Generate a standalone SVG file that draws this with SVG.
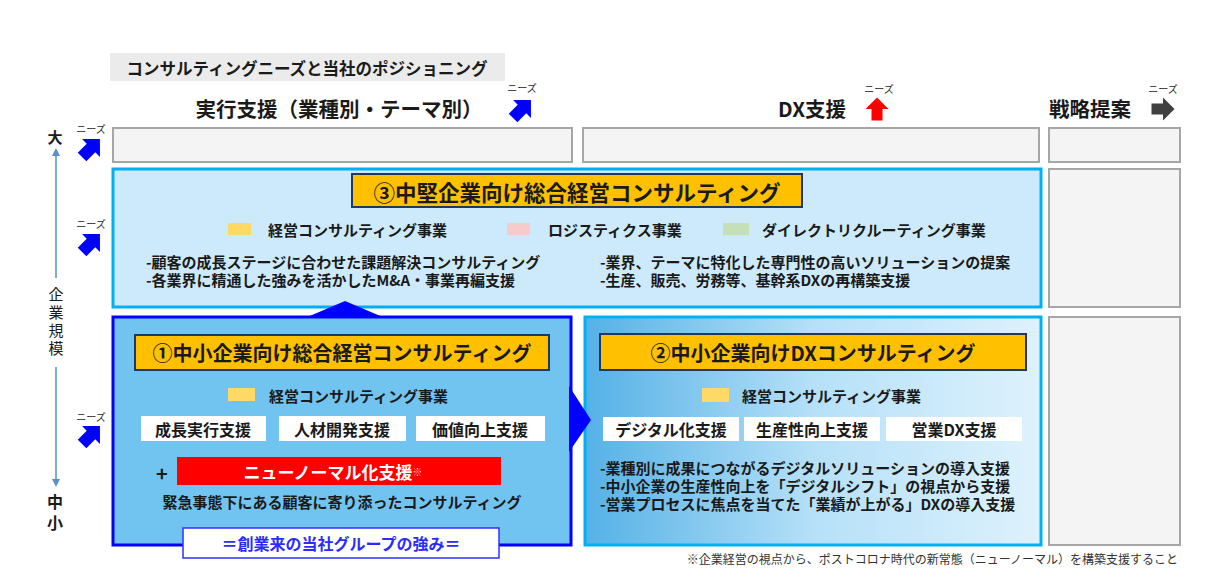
<svg xmlns="http://www.w3.org/2000/svg" width="1228" height="581" viewBox="0 0 1228 581">
<style>
text{font-family:"Noto Sans CJK JP","Noto Sans",sans-serif;fill:#1a1a1a;dominant-baseline:central}
.b{font-weight:700}
.hd{font-size:20.5px;font-weight:700}
.nz{font-size:10px;fill:#222}
.gray{fill:#f4f4f4;stroke:#a6a6a6;stroke-width:2}
.ttl{fill:#ffc000;stroke:#1f3864;stroke-width:2}
.ttxt{font-size:20px;font-weight:700;text-anchor:middle}
.lg{font-size:15px;font-weight:700}
.bl{font-size:15px;font-weight:700}
.wb{fill:#ffffff}
.wt{font-size:16px;font-weight:700;text-anchor:middle}
.ax{stroke:#5b8fc7;stroke-width:1.5;fill:none}
</style>
<defs>
<path id="arr" d="M0,-11.5 L11.5,0 L5.5,0 L5.5,11.5 L-5.5,11.5 L-5.5,0 L-11.5,0 Z"/>
<linearGradient id="g2" x1="0" y1="0" x2="1" y2="0">
<stop offset="0" stop-color="#55b1e6"/>
<stop offset="0.5" stop-color="#b5e0f8"/>
<stop offset="1" stop-color="#def2fd"/>
</linearGradient>
</defs>
<rect width="1228" height="581" fill="#ffffff"/>

<g id="title">
<rect x="110" y="53" width="395" height="28" fill="#ebebeb"/>
<text x="307" y="68" class="b" font-size="16.5" text-anchor="middle">コンサルティングニーズと当社のポジショニング</text>
</g>

<g id="headers">
<text x="339" y="108" class="hd" text-anchor="middle">実行支援（業種別・テーマ別）</text>
<text x="522" y="87" class="nz" text-anchor="middle">ニーズ</text>
<use href="#arr" transform="translate(522,109) rotate(45) scale(1.1)" fill="#0000ff"/>
<text x="846" y="108" class="hd" text-anchor="end">DX支援</text>
<text x="879" y="88" class="nz" text-anchor="middle">ニーズ</text>
<use href="#arr" transform="translate(877,109)" fill="#ff0000"/>
<text x="1049" y="108" class="hd">戦略提案</text>
<text x="1163" y="88" class="nz" text-anchor="middle">ニーズ</text>
<use href="#arr" transform="translate(1163,109) rotate(90)" fill="#404040"/>
</g>

<g id="axis">
<text x="55" y="136" class="b" font-size="15" text-anchor="middle">大</text>
<text x="91" y="128" class="nz" text-anchor="middle">ニーズ</text>
<use href="#arr" transform="translate(91,148) rotate(45) scale(1.1)" fill="#0000ff"/>
<text x="91" y="223" class="nz" text-anchor="middle">ニーズ</text>
<use href="#arr" transform="translate(91,243) rotate(45) scale(1.1)" fill="#0000ff"/>
<text x="91" y="416" class="nz" text-anchor="middle">ニーズ</text>
<use href="#arr" transform="translate(91,435) rotate(45) scale(1.1)" fill="#0000ff"/>
<line x1="56" y1="153" x2="56" y2="278" class="ax"/>
<path d="M52,156 L56,148 L60,156 Z" fill="#5b8fc7"/>
<line x1="56" y1="367" x2="56" y2="482" class="ax"/>
<path d="M52,479 L56,487 L60,479 Z" fill="#5b8fc7"/>
<text x="56" y="293" font-size="15" text-anchor="middle">企</text>
<text x="56" y="311" font-size="15" text-anchor="middle">業</text>
<text x="56" y="329" font-size="15" text-anchor="middle">規</text>
<text x="56" y="347" font-size="15" text-anchor="middle">模</text>
<text x="55" y="501" class="b" font-size="16" text-anchor="middle">中</text>
<text x="55" y="522" class="b" font-size="16" text-anchor="middle">小</text>
</g>

<g id="row1">
<rect x="113" y="128" width="459" height="34" class="gray"/>
<rect x="583" y="128" width="456" height="34" class="gray"/>
<rect x="1049" y="128" width="131" height="34" class="gray"/>
</g>

<g id="gray-right">
<rect x="1049" y="169" width="131" height="138" class="gray"/>
<rect x="1049" y="317" width="131" height="228" class="gray"/>
</g>

<g id="box3">
<rect x="113" y="169" width="928" height="138" fill="#cdeafc" stroke="#00b0f0" stroke-width="3"/>
<rect x="352" y="174" width="450" height="33" class="ttl"/>
<text x="577" y="191" class="ttxt" font-size="21.5" style="font-size:21.5px">③中堅企業向け総合経営コンサルティング</text>
<rect x="228" y="223" width="23" height="12" fill="#ffd966"/>
<text x="268" y="229" class="lg">経営コンサルティング事業</text>
<rect x="507" y="223" width="23" height="12" fill="#f8cbcb"/>
<text x="548" y="229" class="lg">ロジスティクス事業</text>
<rect x="723" y="223" width="26" height="12" fill="#c5e0b4"/>
<text x="762" y="229" class="lg">ダイレクトリクルーティング事業</text>
<text x="146" y="261" class="bl">-顧客の成長ステージに合わせた課題解決コンサルティング</text>
<text x="146" y="279" class="bl">-各業界に精通した強みを活かしたM&amp;A・事業再編支援</text>
<text x="600" y="261" class="bl">-業界、テーマに特化した専門性の高いソリューションの提案</text>
<text x="600" y="279" class="bl">-生産、販売、労務等、基幹系DXの再構築支援</text>
</g>

<g id="box1">
<rect x="113" y="317" width="458" height="228" fill="#72c4f0" stroke="#0000ff" stroke-width="3"/>
<rect x="135" y="335" width="414" height="35" class="ttl"/>
<text x="342" y="352" class="ttxt">①中小企業向け総合経営コンサルティング</text>
<rect x="228" y="388" width="27" height="13" fill="#ffd966"/>
<text x="269" y="395" class="lg">経営コンサルティング事業</text>
<rect x="141" y="416" width="125" height="25" class="wb"/>
<text x="203" y="429" class="wt">成長実行支援</text>
<rect x="279" y="416" width="127" height="25" class="wb"/>
<text x="342" y="429" class="wt">人材開発支援</text>
<rect x="416" y="416" width="129" height="25" class="wb"/>
<text x="480" y="429" class="wt">価値向上支援</text>
<text x="162" y="472" class="b" font-size="20" text-anchor="middle">+</text>
<rect x="177" y="457" width="324" height="28" fill="#ff0000"/>
<text x="333" y="471" class="b" font-size="17" text-anchor="middle" style="fill:#ffffff">ニューノーマル化支援<tspan font-size="10" style="fill:#ffc9c9">※</tspan></text>
<text x="342" y="501" class="b" font-size="15" text-anchor="middle">緊急事態下にある顧客に寄り添ったコンサルティング</text>
<rect x="183" y="528" width="316" height="30" fill="#ffffff" stroke="#2f2fff" stroke-width="1.5"/>
<text x="341" y="543" class="b" font-size="16" text-anchor="middle" style="fill:#2b2bff">＝創業来の当社グループの強み＝</text>
</g>

<g id="box2">
<rect x="585" y="317" width="456" height="228" fill="url(#g2)" stroke="#00b0f0" stroke-width="3"/>
<rect x="600" y="334" width="426" height="36" class="ttl"/>
<text x="813" y="352" class="ttxt">②中小企業向けDXコンサルティング</text>
<rect x="702" y="388" width="27" height="14" fill="#ffd966"/>
<text x="742" y="395" class="lg">経営コンサルティング事業</text>
<rect x="603" y="417" width="136" height="24" class="wb"/>
<text x="671" y="429" class="wt">デジタル化支援</text>
<rect x="744" y="417" width="136" height="24" class="wb"/>
<text x="812" y="429" class="wt">生産性向上支援</text>
<rect x="886" y="417" width="136" height="24" class="wb"/>
<text x="954" y="429" class="wt">営業DX支援</text>
<text x="600" y="467" class="bl">-業種別に成果につながるデジタルソリューションの導入支援</text>
<text x="600" y="485" class="bl">-中小企業の生産性向上を「デジタルシフト」の視点から支援</text>
<text x="600" y="503" class="bl">-営業プロセスに焦点を当てた「業績が上がる」DXの導入支援</text>
</g>

<g id="connectors">
<path d="M305,318 L345,301 L385,318 Z" fill="#0000ff"/>
<path d="M569,386 L591,420 L569,452 Z" fill="#0000ff"/>
</g>

<g id="footnote">
<text x="1178" y="558" font-size="12" text-anchor="end" style="fill:#333333">※企業経営の視点から、ポストコロナ時代の新常態（ニューノーマル）を構築支援すること</text>
</g>
</svg>
